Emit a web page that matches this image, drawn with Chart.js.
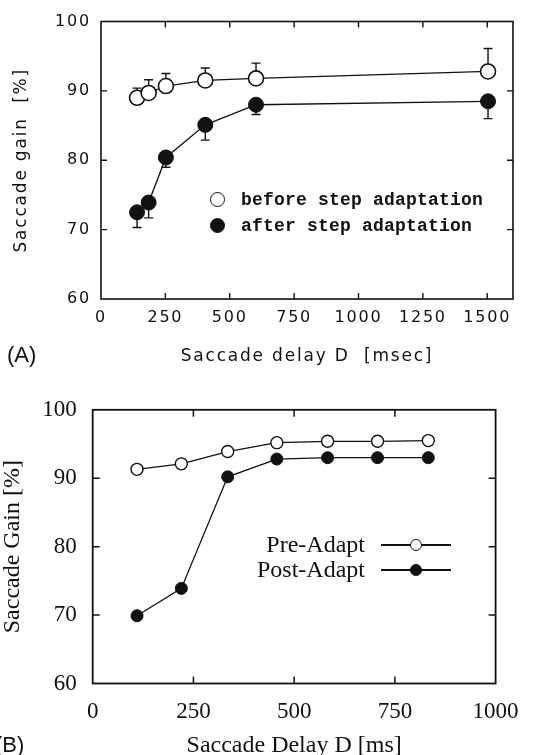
<!DOCTYPE html>
<html><head><meta charset="utf-8">
<script src="https://cdn.jsdelivr.net/npm/chart.js@4/dist/chart.umd.min.js"></script>
<style>
html,body{margin:0;padding:0;background:#fff;overflow:hidden;width:533px;height:755px;position:relative}
canvas{position:absolute;left:0}
#cA{top:0}
#cB{top:380px}
.lbl{position:absolute;font-family:"Liberation Sans",sans-serif;font-size:22px;color:#111;line-height:22px;white-space:nowrap}
.legA{position:absolute;font-family:"Liberation Mono",monospace;font-weight:bold;font-size:18px;line-height:18px;color:#111;white-space:nowrap;letter-spacing:0.2px}
.legB{position:absolute;font-family:"Liberation Serif",serif;font-size:24px;line-height:24px;color:#111;white-space:nowrap;text-align:right}
.dot{position:absolute;border-radius:50%;box-sizing:border-box;border:1.6px solid #111}
.ln{position:absolute;height:1.5px;background:#111}
</style></head><body>
<canvas id="cA" width="533" height="380"></canvas>
<canvas id="cB" width="533" height="400"></canvas>
<div class="lbl" style="left:7px;top:344px">(A)</div>
<div class="lbl" style="left:-5px;top:734px">(B)</div>

<div class="dot" style="left:209.5px;top:191.5px;width:15px;height:15px;background:#fff"></div>
<div class="dot" style="left:209.5px;top:217.5px;width:15px;height:15px;background:#111"></div>
<div class="legA" style="left:241px;top:191px">before step adaptation</div>
<div class="legA" style="left:241px;top:217px">after step adaptation</div>

<div class="legB" style="right:168px;top:532px">Pre-Adapt</div>
<div class="legB" style="right:168px;top:557px">Post-Adapt</div>
<div class="ln" style="left:381px;width:70px;top:544px"></div>
<div class="ln" style="left:381px;width:70px;top:569px"></div>
<div class="dot" style="left:409.5px;top:539px;width:12px;height:12px;background:#fff;border-width:1.4px"></div>
<div class="dot" style="left:409.5px;top:564px;width:12px;height:12px;background:#111"></div>

<script>
// ---- Panel A data ----
const delayA = [140, 185, 252, 405, 602, 1503];
const beforeA = [89.0, 89.7, 90.7, 91.5, 91.8, 92.8];
const beforeErrA = [90.4, 91.6, 92.5, 93.3, 94.0, 96.1];
const afterA = [72.5, 73.9, 80.4, 85.1, 88.0, 88.5];
const afterErrA = [70.3, 71.7, 79.0, 82.9, 86.6, 86.0];
const xTicksA = [0, 250, 500, 750, 1000, 1250, 1500];
const yTicksA = [60, 70, 80, 90, 100];
// ---- Panel B data ----
const delayB = [110, 220, 335, 457, 583, 707, 833];
const preB = [91.3, 92.1, 93.9, 95.2, 95.4, 95.4, 95.5];
const postB = [69.9, 73.9, 90.2, 92.8, 93.0, 93.0, 93.0];
const xTicksB = [0, 250, 500, 750, 1000];
const yTicksB = [60, 70, 80, 90, 100];

const ink = '#111';
const pts = (xs, ys) => xs.map((x, i) => ({x, y: ys[i]}));

const framePlugin = {
  id: 'frame',
  beforeDatasetsDraw(chart, args, o) {
    const {ctx, chartArea: a, scales: {x, y}} = chart;
    ctx.save();
    ctx.letterSpacing = '0px';
    ctx.strokeStyle = ink;
    ctx.lineWidth = o.lw;
    ctx.strokeRect(a.left, a.top, a.right - a.left, a.bottom - a.top);
    ctx.lineWidth = o.tw;
    ctx.beginPath();
    x.ticks.forEach(t => {
      const p = x.getPixelForValue(t.value);
      if (p <= a.left + 1 || p >= a.right - 1) return;
      ctx.moveTo(p, a.bottom); ctx.lineTo(p, a.bottom - o.len);
      ctx.moveTo(p, a.top); ctx.lineTo(p, a.top + o.len);
    });
    y.ticks.forEach(t => {
      const p = y.getPixelForValue(t.value);
      if (p <= a.top + 1 || p >= a.bottom - 1) return;
      ctx.moveTo(a.left, p); ctx.lineTo(a.left + o.len, p);
      ctx.moveTo(a.right, p); ctx.lineTo(a.right - o.len, p);
    });
    ctx.stroke();
    // error bars
    ctx.lineWidth = 1.4;
    ctx.beginPath();
    chart.data.datasets.forEach(ds => {
      if (!ds.errEnd) return;
      ds.data.forEach((pt, i) => {
        const px = x.getPixelForValue(pt.x), py = y.getPixelForValue(pt.y), pe = y.getPixelForValue(ds.errEnd[i]);
        ctx.moveTo(px, py); ctx.lineTo(px, pe);
        ctx.moveTo(px - 4.5, pe); ctx.lineTo(px + 4.5, pe);
      });
    });
    ctx.stroke();
    ctx.restore();
  }
};

const spacingPlugin = {
  id: 'spacing',
  beforeDraw(chart, args, o) { chart.ctx.letterSpacing = o.v || '0px'; }
};

function makeChart(id, cfg) {
  return new Chart(document.getElementById(id), {
    type: 'scatter',
    data: {datasets: cfg.datasets},
    options: {
      responsive: false, animation: false, devicePixelRatio: 1, events: [],
      layout: {padding: cfg.padding},
      plugins: {legend: {display: false}, tooltip: {enabled: false},
        frame: cfg.frame, spacing: {v: cfg.spacing}},
      scales: {
        x: {type: 'linear', position: 'bottom', min: cfg.xmin, max: cfg.xmax,
          afterBuildTicks: s => { s.ticks = cfg.xTicks.map(v => ({value: v})); },
          afterFit: s => { s.height = cfg.xH; },
          grid: {display: false, drawTicks: false}, border: {display: false},
          ticks: {color: ink, font: cfg.tickFont, padding: cfg.xPad, maxRotation: 0, autoSkip: false,
            callback: v => String(v)},
          title: {display: true, text: cfg.xTitle, color: ink, font: cfg.titleFont, padding: {top: 0, bottom: cfg.xTitlePad}}},
        y: {type: 'linear', position: 'left', min: cfg.ymin, max: cfg.ymax,
          afterBuildTicks: s => { s.ticks = cfg.yTicks.map(v => ({value: v})); },
          afterFit: s => { s.width = cfg.yW; },
          grid: {display: false, drawTicks: false}, border: {display: false},
          ticks: {color: ink, font: cfg.tickFont, padding: cfg.yPad, callback: v => String(v)},
          title: {display: true, text: cfg.yTitle, color: ink, font: cfg.titleFont, padding: {top: cfg.yTitlePad, bottom: 0}}}
      }
    },
    plugins: [spacingPlugin, framePlugin]
  });
}

makeChart('cA', {
  datasets: [
    {data: pts(delayA, beforeA), errEnd: beforeErrA, showLine: true, borderColor: ink, borderWidth: 1.3,
      pointStyle: 'circle', pointRadius: 7.5, pointBackgroundColor: '#fff', pointBorderColor: ink, pointBorderWidth: 1.6},
    {data: pts(delayA, afterA), errEnd: afterErrA, showLine: true, borderColor: ink, borderWidth: 1.3,
      pointStyle: 'circle', pointRadius: 7.5, pointBackgroundColor: ink, pointBorderColor: ink, pointBorderWidth: 1}
  ],
  padding: {left: 0, right: 20, top: 21.5, bottom: 0},
  xmin: 0, xmax: 1600, ymin: 60, ymax: 100, xTicks: xTicksA, yTicks: yTicksA,
  xH: 81, yW: 101, xPad: 9, yPad: 10,
  tickFont: {family: 'DejaVu Sans', size: 16},
  titleFont: {family: 'DejaVu Sans', size: 17},
  spacing: '1.8px',
  xTitle: 'Saccade delay D  [msec]', yTitle: 'Saccade gain  [%]',
  xTitlePad: 13, yTitlePad: 11.8,
  frame: {lw: 1.6, tw: 1.4, len: 6}
});

makeChart('cB', {
  datasets: [
    {data: pts(delayB, preB), showLine: true, borderColor: ink, borderWidth: 1.3,
      pointStyle: 'circle', pointRadius: 6, pointBackgroundColor: '#fff', pointBorderColor: ink, pointBorderWidth: 1.4},
    {data: pts(delayB, postB), showLine: true, borderColor: ink, borderWidth: 1.3,
      pointStyle: 'circle', pointRadius: 6, pointBackgroundColor: ink, pointBorderColor: ink, pointBorderWidth: 1}
  ],
  padding: {left: 0, right: 28.3, top: 24.5, bottom: 0},
  xmin: 0, xmax: 1000, ymin: 60, ymax: 100, xTicks: xTicksB, yTicks: yTicksB,
  xH: 96.5, yW: 92.7, xPad: 14.4, yPad: 16,
  tickFont: {family: 'Liberation Serif', size: 23},
  titleFont: {family: 'Liberation Serif', size: 24},
  spacing: '0px',
  xTitle: 'Saccade Delay D [ms]', yTitle: 'Saccade Gain [%]',
  xTitlePad: 19.6, yTitlePad: -1.4,
  frame: {lw: 1.8, tw: 1.5, len: 7}
});
</script>
</body></html>
